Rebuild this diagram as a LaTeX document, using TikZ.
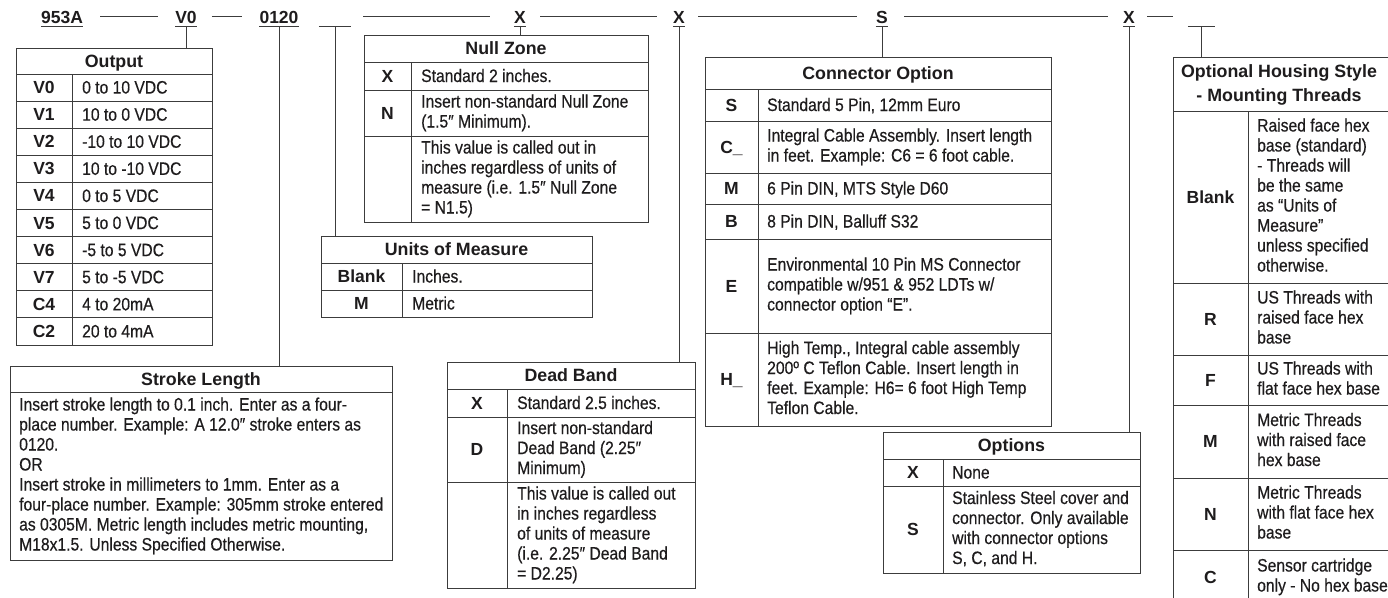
\documentclass[tikz,border=0pt]{standalone}
\usepackage{fontspec}
\setmainfont{Liberation Sans}
\newfontfamily\cond[FakeStretch=0.87,FakeBold=0.4]{Liberation Sans}
\definecolor{lc}{HTML}{3C3C3C}
\definecolor{tc}{HTML}{1E1C1D}
\newcommand\sr{\rule[-4pt]{0pt}{20pt}}
\tikzset{
 ln/.style={draw=lc, line width=1pt},
 tbox/.style={draw=lc, line width=1pt, rectangle, inner sep=0pt, anchor=north west},
 ttl/.style={font=\bfseries\fontsize{17.8}{24}\selectfont, text=tc, inner sep=0pt, align=center, execute at begin node=\sr, execute at end node=\sr},
 lbl/.style={font=\bfseries\fontsize{17.5}{20}\selectfont, text=tc, inner sep=0pt, execute at begin node=\sr},
 val/.style={font=\cond\fontsize{18}{20}\selectfont, text=tc, inner sep=0pt, anchor=west, align=left, execute at begin node=\sr, execute at end node=\sr},
 code/.style={font=\bfseries\fontsize{17.5}{20}\selectfont, text=tc, inner sep=0pt, anchor=base, text height=16.5pt, text depth=2.5pt},
}
\begin{document}
\begin{tikzpicture}[x=1pt,y=-1pt]
\useasboundingbox (0,0) rectangle (1388,597);
\fill[white] (0,0) rectangle (1388,597);
\begin{scope}
\clip (0,0) rectangle (1388,597);

% ---------- code line ----------
\node[code] (c953) at (62,23.5) {953A};
\node[code] (cV0) at (186,23.5) {V0};
\node[code] (c0120) at (279,23.5) {0120};
\node[code, minimum width=32pt] (cU) at (335,23.5) {};
\node[code] (cX1) at (520,23.5) {X};
\node[code] (cX2) at (679,23.5) {X};
\node[code] (cS) at (882,23.5) {S};
\node[code] (cX3) at (1129,23.5) {X};
\node[code, minimum width=27pt] (cH) at (1201.5,23.5) {};
\foreach \n in {c953,cV0,c0120,cU,cX1,cX2,cS,cX3,cH}
  \draw[ln] (\n.south west) -- (\n.south east);
\draw[ln] ([xshift=17pt]c953.east) -- ([xshift=-17pt]cV0.west);
\draw[ln] ([xshift=15pt]cV0.east) -- ([xshift=-17pt]c0120.west);
\draw[ln] ([xshift=12pt]cU.east) -- ([xshift=-24pt]cX1.west);
\draw[ln] ([xshift=14pt]cX1.east) -- ([xshift=-16pt]cX2.west);
\draw[ln] ([xshift=13pt]cX2.east) -- ([xshift=-19pt]cS.west);
\draw[ln] ([xshift=16pt]cS.east) -- ([xshift=-15pt]cX3.west);
\draw[ln] ([xshift=12pt]cX3.east) -- ([xshift=-15pt]cH.west);

% ---------- Output ----------
\node[tbox, minimum width=196pt, minimum height=297pt] (tOut) at (16,48) {};
\node[ttl] (hOut) at (114,61) {Output};
\draw[ln] (72,74) -- (72,345);
\foreach \l/\v [count=\i] in {V0/0 to 10 VDC, V1/10 to 0 VDC, V2/-10 to 10 VDC, V3/10 to -10 VDC, V4/0 to 5 VDC, V5/5 to 0 VDC, V6/-5 to 5 VDC, V7/5 to -5 VDC, C4/4 to 20mA, C2/20 to 4mA}{
  \draw[ln] (16,{74+27.1*(\i-1)}) -- (212,{74+27.1*(\i-1)});
  \node[lbl] (oL\i) at (44,{74+27.1*(\i-0.5)}) {\l};
  \node[val] (oV\i) at (82,{74+27.1*(\i-0.5)}) {\v};
}

% ---------- Stroke Length ----------
\node[tbox, minimum width=382pt, minimum height=194pt] (tStroke) at (10,366) {};
\node[ttl] (hStroke) at (201,379) {Stroke Length};
\draw[ln] (10,392) -- (392,392);
\node[val] (vStroke) at (19,476) {Insert stroke length to 0.1 inch. Enter as a four-\\place number. Example: A 12.0″ stroke enters as\\0120.\\OR\\Insert stroke in millimeters to 1mm. Enter as a\\four-place number. Example: 305mm stroke entered\\as 0305M. Metric length includes metric mounting,\\M18x1.5. Unless Specified Otherwise.};

% ---------- Units of Measure ----------
\node[tbox, minimum width=271pt, minimum height=81pt] (tUnits) at (321,236) {};
\node[ttl] (hUnits) at (456.5,249.5) {Units of Measure};
\draw[ln] (321,263) -- (592,263);
\draw[ln] (321,290) -- (592,290);
\draw[ln] (402,263) -- (402,317);
\node[lbl] (uL1) at (361.5,276.5) {Blank};
\node[val] (uV1) at (412,276.5) {Inches.};
\node[lbl] (uL2) at (361.5,303.5) {M};
\node[val] (uV2) at (412,303.5) {Metric};

% ---------- Null Zone ----------
\node[tbox, minimum width=284pt, minimum height=187pt] (tNull) at (364,35) {};
\node[ttl] (hNull) at (506,48.5) {Null Zone};
\draw[ln] (364,62) -- (648,62);
\draw[ln] (364,90) -- (648,90);
\draw[ln] (364,136) -- (648,136);
\draw[ln] (411,62) -- (411,222);
\node[lbl] (nL1) at (387.5,76) {X};
\node[val] (nV1) at (421,76) {Standard 2 inches.};
\node[lbl] (nL2) at (387.5,113) {N};
\node[val] (nV2) at (421,113) {Insert non-standard Null Zone\\(1.5″ Minimum).};
\node[val] (nV3) at (421,179) {This value is called out in\\inches regardless of units of\\measure (i.e. 1.5″ Null Zone\\= N1.5)};

% ---------- Dead Band ----------
\node[tbox, minimum width=248pt, minimum height=226pt] (tDead) at (447,362) {};
\node[ttl] (hDead) at (571,375.5) {Dead Band};
\draw[ln] (447,389) -- (695,389);
\draw[ln] (447,417) -- (695,417);
\draw[ln] (447,482) -- (695,482);
\draw[ln] (507,389) -- (507,588);
\node[lbl] (dL1) at (477,403) {X};
\node[val] (dV1) at (517,403) {Standard 2.5 inches.};
\node[lbl] (dL2) at (477,449.5) {D};
\node[val] (dV2) at (517,449.5) {Insert non-standard\\Dead Band (2.25″\\Minimum)};
\node[val] (dV3) at (517,535) {This value is called out\\in inches regardless\\of units of measure\\(i.e. 2.25″ Dead Band\\= D2.25)};

% ---------- Connector Option ----------
\node[tbox, minimum width=346pt, minimum height=369pt] (tConn) at (705,57) {};
\node[ttl] (hConn) at (878,73) {Connector Option};
\foreach \y in {89,121,173,204,239,333} \draw[ln] (705,\y) -- (1051,\y);
\draw[ln] (758,89) -- (758,426);
\node[lbl] (kL1) at (731.5,105) {S};
\node[val] (kV1) at (767,105) {Standard 5 Pin, 12mm Euro};
\node[lbl] (kL2) at (731.5,147) {C\_};
\node[val] (kV2) at (767,147) {Integral Cable Assembly. Insert length\\in feet. Example: C6 = 6 foot cable.};
\node[lbl] (kL3) at (731.5,188.5) {M};
\node[val] (kV3) at (767,188.5) {6 Pin DIN, MTS Style D60};
\node[lbl] (kL4) at (731.5,221.5) {B};
\node[val] (kV4) at (767,221.5) {8 Pin DIN, Balluff S32};
\node[lbl] (kL5) at (731.5,286) {E};
\node[val] (kV5) at (767,286) {Environmental 10 Pin MS Connector\\compatible w/951 \& 952 LDTs w/\\connector option “E”.};
\node[lbl] (kL6) at (731.5,379.5) {H\_};
\node[val] (kV6) at (767,379.5) {High Temp., Integral cable assembly\\200º C Teflon Cable. Insert length in\\feet. Example: H6= 6 foot High Temp\\Teflon Cable.};

% ---------- Options ----------
\node[tbox, minimum width=257pt, minimum height=141pt] (tOpt) at (883,432) {};
\node[ttl] (hOpt) at (1011.5,445.5) {Options};
\draw[ln] (883,459) -- (1140,459);
\draw[ln] (883,486) -- (1140,486);
\draw[ln] (943,459) -- (943,573);
\node[lbl] (pL1) at (913,472.5) {X};
\node[val] (pV1) at (952,472.5) {None};
\node[lbl] (pL2) at (913,529.5) {S};
\node[val] (pV2) at (952,529.5) {Stainless Steel cover and\\connector. Only available\\with connector options\\S, C, and H.};

% ---------- Optional Housing Style ----------
\node[tbox, minimum width=217pt, minimum height=547pt] (tHouse) at (1173,57) {};
\node[ttl] (hHouse) at (1279,85) {Optional Housing Style\\- Mounting Threads};
\foreach \y in {111,283,355,405,478,550} \draw[ln] (1173,\y) -- (1390,\y);
\draw[ln] (1248,111) -- (1248,604);
\node[lbl] (sL1) at (1210.5,197) {Blank};
\node[val] (sV1) at (1257,197) {Raised face hex\\base (standard)\\- Threads will\\be the same\\as “Units of\\Measure”\\unless specified\\otherwise.};
\node[lbl] (sL2) at (1210.5,319) {R};
\node[val] (sV2) at (1257,319) {US Threads with\\raised face hex\\base};
\node[lbl] (sL3) at (1210.5,380) {F};
\node[val] (sV3) at (1257,380) {US Threads with\\flat face hex base};
\node[lbl] (sL4) at (1210.5,441.5) {M};
\node[val] (sV4) at (1257,441.5) {Metric Threads\\with raised face\\hex base};
\node[lbl] (sL5) at (1210.5,514) {N};
\node[val] (sV5) at (1257,514) {Metric Threads\\with flat face hex\\base};
\node[lbl] (sL6) at (1210.5,577) {C};
\node[val] (sV6) at (1257,577) {Sensor cartridge\\only - No hex base};

% ---------- connectors ----------
\draw[ln] (cV0.south) -- (cV0.south |- tOut.north);
\draw[ln] (c0120.south) -- (c0120.south |- tStroke.north);
\draw[ln] (cU.south) -- (cU.south |- tUnits.north);
\draw[ln] (cX1.south) -- (cX1.south |- tNull.north);
\draw[ln] (cX2.south) -- (cX2.south |- tDead.north);
\draw[ln] (cS.south) -- (cS.south |- tConn.north);
\draw[ln] (cX3.south) -- (cX3.south |- tOpt.north);
\draw[ln] (cH.south) -- (cH.south |- tHouse.north);
\end{scope}
\end{tikzpicture}
\end{document}
